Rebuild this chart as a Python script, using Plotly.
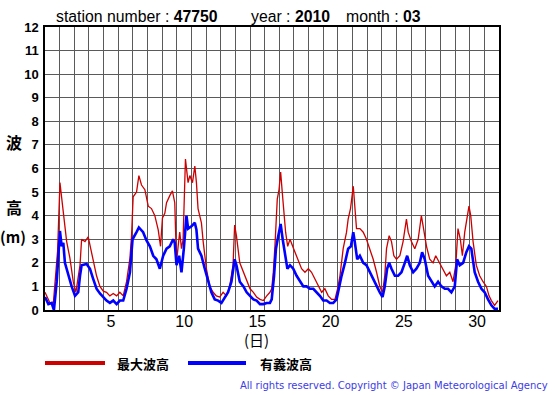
import plotly.graph_objects as go

# ---- data (time in days: 1.0 = Mar 1 00:00) ----
max_t = [1.00,1.34,1.57,1.86,2.02,2.18,2.36,2.48,2.70,2.93,3.11,3.39,3.50,3.73,3.95,4.07,4.30,4.52,4.75,4.98,
         5.20,5.43,5.66,5.89,6.11,6.34,6.57,6.80,6.91,7.02,7.25,7.41,7.59,7.82,8.05,8.27,8.50,8.73,8.89,9.02,
         9.18,9.30,9.52,9.70,9.86,9.98,10.09,10.20,10.32,10.43,10.59,10.77,10.89,11.07,11.23,11.34,11.45,11.68,11.80,12.02,
         12.25,12.48,12.70,12.93,13.16,13.39,13.61,13.84,13.95,14.07,14.30,14.55,14.77,15.00,15.23,15.45,15.68,15.91,16.14,16.36,
         16.48,16.59,16.70,16.86,16.98,17.09,17.20,17.32,17.43,17.57,17.73,17.91,18.07,18.30,18.52,18.75,18.98,19.20,19.43,19.66,
         19.89,20.11,20.34,20.57,20.80,20.98,21.14,21.36,21.59,21.70,21.86,22.05,22.16,22.27,22.50,22.73,22.95,23.18,23.41,23.64,
         23.86,24.05,24.20,24.32,24.50,24.66,24.82,25.00,25.23,25.45,25.68,25.80,26.02,26.25,26.48,26.70,26.82,27.05,27.27,27.50,
         27.68,27.95,28.18,28.41,28.64,28.86,29.05,29.20,29.36,29.50,29.66,29.82,29.95,30.07,30.23,30.45,30.68,30.91,31.14,31.32,
         31.48,31.70,31.93]
max_wave = [0.75,0.3,0.3,2.5,5.4,4.5,3.5,2.9,2.2,1.2,0.75,1.9,3.0,2.9,3.1,2.75,2.2,1.45,1.0,0.8,
            0.75,0.6,0.7,0.6,0.75,0.6,1.2,2.2,3.15,4.8,5.0,5.7,5.3,5.1,4.4,4.3,4.0,3.4,2.7,3.9,
            4.1,4.55,4.85,5.05,4.55,2.0,2.7,3.3,2.6,3.0,6.4,5.4,5.7,5.4,6.1,5.4,4.3,3.7,2.9,1.75,
            1.0,0.75,0.6,0.55,0.75,0.6,1.0,1.9,3.6,3.15,2.0,1.6,1.2,0.9,0.75,0.55,0.45,0.4,0.6,0.75,
            0.9,1.6,2.7,4.7,5.1,5.85,5.0,4.0,3.3,2.7,3.0,2.7,2.45,2.15,1.75,1.6,1.75,1.6,1.3,1.0,
            0.75,0.9,0.6,0.45,0.45,0.9,1.45,2.6,3.3,3.85,4.3,5.25,4.4,3.45,3.45,3.3,3.0,2.6,2.15,1.6,
            1.0,0.75,1.45,2.6,3.15,2.9,2.3,2.15,2.3,2.9,3.85,3.3,2.9,2.6,3.0,4.0,3.55,2.7,2.15,2.0,
            2.3,2.0,1.75,1.45,1.6,1.2,1.9,3.45,3.0,2.3,3.3,3.85,4.4,4.0,2.9,1.9,1.45,1.2,1.0,0.6,
            0.4,0.2,0.4]

sig_t = [1.00,1.23,1.45,1.61,1.80,1.91,2.02,2.14,2.25,2.36,2.59,2.82,3.05,3.27,3.39,3.50,3.84,4.07,4.30,4.52,
         4.75,4.98,5.20,5.43,5.66,5.89,6.11,6.34,6.57,6.80,6.98,7.25,7.41,7.70,7.93,8.16,8.39,8.61,8.84,9.07,
         9.30,9.52,9.75,9.86,9.98,10.16,10.32,10.48,10.66,10.77,11.00,11.23,11.34,11.45,11.68,11.91,12.14,12.36,12.59,12.82,
         13.05,13.27,13.50,13.73,13.95,14.07,14.30,14.55,14.77,15.00,15.23,15.45,15.68,15.91,16.14,16.36,16.48,16.64,16.77,16.93,
         17.09,17.23,17.39,17.55,17.73,17.95,18.18,18.41,18.64,18.86,19.09,19.32,19.55,19.77,20.00,20.23,20.45,20.68,20.91,21.09,
         21.25,21.48,21.70,21.89,22.05,22.16,22.32,22.50,22.73,22.95,23.18,23.41,23.64,23.86,24.05,24.20,24.36,24.50,24.66,24.89,
         25.11,25.34,25.57,25.73,25.91,26.14,26.36,26.59,26.75,26.93,27.16,27.39,27.61,27.84,28.07,28.30,28.52,28.75,28.98,29.14,
         29.32,29.55,29.77,29.95,30.11,30.34,30.57,30.80,31.02,31.25,31.48,31.70,31.93]
sig_wave = [0.55,0.25,0.3,0.0,1.2,2.6,3.35,2.7,2.85,2.0,1.45,1.0,0.6,0.75,1.45,1.9,1.95,1.75,1.3,0.9,
            0.7,0.55,0.4,0.3,0.4,0.25,0.4,0.4,0.9,1.6,3.0,3.3,3.5,3.3,2.95,2.7,2.3,2.15,1.75,2.3,
            2.6,2.7,3.0,2.85,1.9,2.3,1.6,2.6,4.0,3.45,3.55,3.7,3.4,2.6,2.3,1.75,1.2,0.75,0.45,0.4,
            0.3,0.55,0.75,1.2,2.15,1.9,1.2,1.0,0.75,0.6,0.45,0.4,0.25,0.25,0.3,0.3,0.45,1.45,2.6,3.15,
            3.65,3.0,2.3,1.75,1.9,1.75,1.45,1.2,1.0,1.0,0.9,0.9,0.75,0.6,0.4,0.4,0.3,0.3,0.45,1.0,
            1.45,2.0,2.6,2.7,3.3,2.85,2.15,2.3,2.0,1.9,1.6,1.3,1.0,0.75,0.55,1.0,1.75,2.0,1.75,1.45,
            1.45,1.6,2.0,2.3,1.9,1.6,1.75,2.0,2.45,2.15,1.45,1.2,1.0,1.2,1.0,0.9,0.9,0.75,1.0,2.15,
            1.9,2.0,2.45,2.7,2.6,1.6,1.2,0.9,0.75,0.45,0.2,0.05,0.05]

day_ticks = [5, 10, 15, 20, 25, 30]
y_ticks = list(range(0, 13))

# ---- geometry helpers (pixel -> paper) ----
W, H = 555, 395
L, R, T, B = 45, 499, 27, 310
def px(x): return (x - L) / (R - L)
def py(y): return (B - y) / (B - T)

fig = go.Figure()
fig.add_trace(go.Scatter(x=max_t, y=max_wave, mode="lines",
                         line=dict(color="rgb(204,0,0)", width=1.3), showlegend=False))
fig.add_trace(go.Scatter(x=sig_t, y=sig_wave, mode="lines",
                         line=dict(color="rgb(0,0,255)", width=2.6), showlegend=False))

fig.update_layout(
    width=W, height=H,
    margin=dict(l=L, r=W - R, t=T, b=H - B, pad=0),
    paper_bgcolor="white", plot_bgcolor="white",
    font=dict(family="Liberation Sans, Arial, sans-serif", color="black"),
    xaxis=dict(range=[1, 32], showline=True, linecolor="black", linewidth=1.5, mirror=True,
               tickvals=[d + 0.5 for d in day_ticks], ticktext=[str(d) for d in day_ticks],
               ticks="", showgrid=False, zeroline=False, ticklabelstandoff=-4,
               tickfont=dict(size=16, color="black"),
               minor=dict(tick0=1, dtick=1, showgrid=True, gridcolor="#5a5a5a", gridwidth=1, ticks="")),
    yaxis=dict(range=[0, 12], showline=True, linecolor="black", linewidth=1.5, mirror=True,
               tickvals=y_ticks, ticks="", showgrid=True, gridcolor="#5a5a5a", gridwidth=1,
               zeroline=False, ticklabelstandoff=2,
               tickfont=dict(size=13, color="black", weight="bold")),
)

ann = []
def text(x, y, s, size, xanchor="left", weight="normal", color="black", family=None):
    d = dict(x=px(x), y=py(y), xref="paper", yref="paper", text=s, showarrow=False,
             xanchor=xanchor, yanchor="middle",
             font=dict(size=size, color=color, weight=weight))
    if family:
        d["font"]["family"] = family
    ann.append(d)

# title line
text(54, 17, "station number : <b>47750</b>", 15.8)
text(249, 17, "year : <b>2010</b>", 15.8)
text(344, 17, "month : <b>03</b>", 15.8)
# y axis title (vertical stacked)
cjk = "Noto Sans CJK JP"
text(14, 142, "波", 16, "center", "bold", family=cjk)
text(14, 207, "高", 16, "center", "bold", family=cjk)
text(13, 237, "(m)", 15, "center", "bold", family=cjk)
# x axis title
text(256, 339, "(日)", 15, "center", family=cjk)
# legend
text(115, 363, "最大波高", 13, "left", "bold", family=cjk)
text(258, 363, "有義波高", 13, "left", "bold", family=cjk)
# copyright
text(550, 385, "All rights reserved. Copyright © Japan Meteorological Agency", 10, "right",
     color="rgb(60,60,230)", family="DejaVu Sans")
fig.update_layout(annotations=ann)

fig.add_shape(type="line", xref="paper", yref="paper", x0=px(45), x1=px(105), y0=py(363), y1=py(363),
              line=dict(color="rgb(204,0,0)", width=4))
fig.add_shape(type="line", xref="paper", yref="paper", x0=px(188), x1=px(246), y0=py(363), y1=py(363),
              line=dict(color="rgb(0,0,255)", width=4))

fig.write_html("out.html", config={"displayModeBar": False},
               post_script="document.body.style.margin='0';document.body.style.padding='0';")
